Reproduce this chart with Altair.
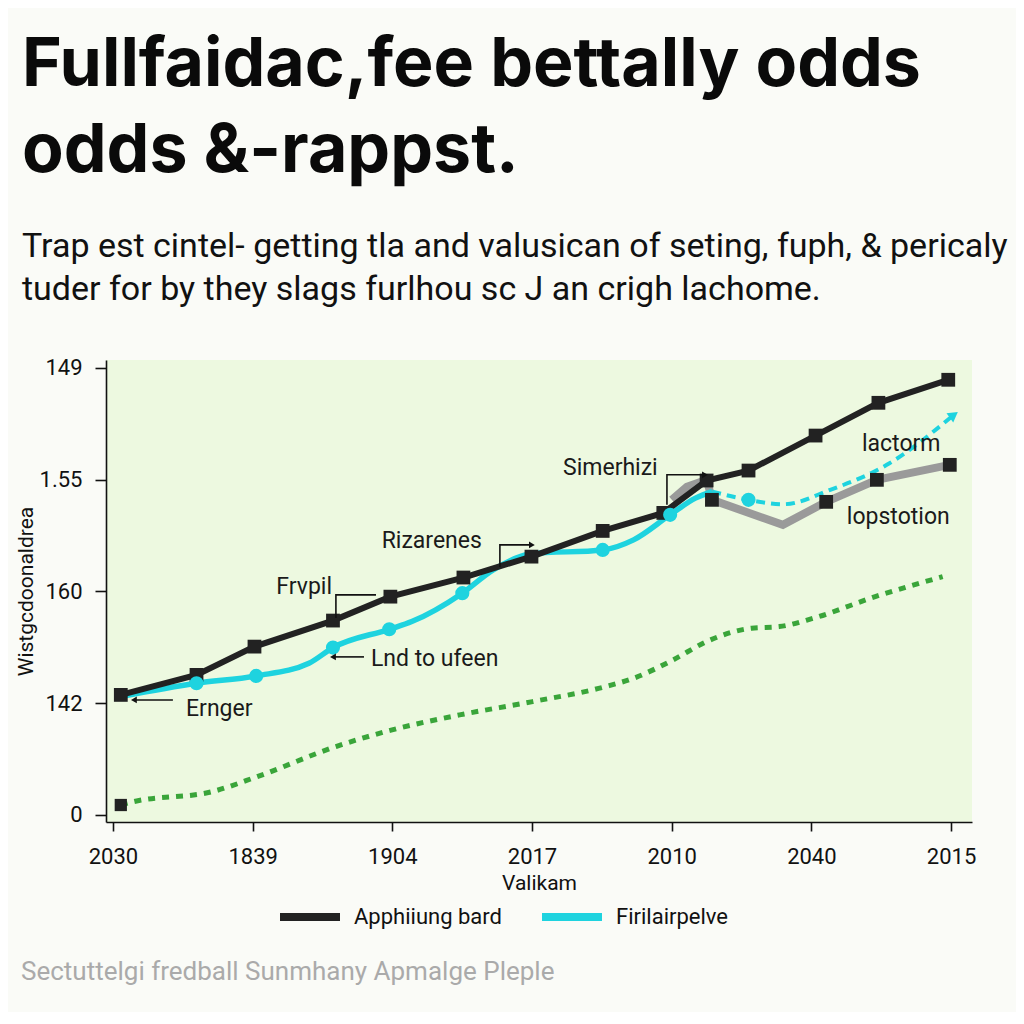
import altair as alt
import pandas as pd

# ---- data ----
x_tick_labels = ["2030", "1839", "1904", "2017", "2010", "2040", "2015"]
y_tick_labels = ["0", "142", "160", "1.55", "149"]

black_x = [0.056, 0.598, 1.013, 1.575, 1.986, 2.509, 2.996, 3.506, 3.94, 4.25, 4.55, 5.03, 5.48, 5.98]
black_y = [1.074, 1.253, 1.506, 1.739, 1.953, 2.124, 2.311, 2.541, 2.702, 2.992, 3.081, 3.394, 3.687, 3.893]

cyan_x = [0.056, 0.598, 1.025, 1.403, 1.575, 1.978, 2.139, 2.501, 2.722, 2.996, 3.506, 3.727, 3.989, 4.17, 4.29]
cyan_y = [1.059, 1.178, 1.244, 1.357, 1.497, 1.661, 1.730, 1.984, 2.192, 2.336, 2.371, 2.461, 2.685, 2.834, 2.893]
cyan_marker = [0, 1, 1, 0, 1, 1, 0, 1, 0, 0, 1, 0, 1, 0, 0]

cyan_dash_x = [4.29, 4.55, 4.80, 5.135, 5.54, 6.02]
cyan_dash_y = [2.893, 2.819, 2.780, 2.908, 3.132, 3.579]
cyan_dash_marker = [0, 1, 0, 0, 0, 0]

gray_x = [4.001, 4.109, 4.252, 4.288, 4.796, 5.106, 5.469, 5.991]
gray_y = [2.819, 2.935, 2.998, 2.819, 2.595, 2.801, 2.998, 3.132]
gray_marker = [0, 0, 0, 1, 0, 1, 1, 1]

green_x = [0.056, 0.148, 0.712, 1.033, 1.596, 1.998, 2.481, 3.004, 3.526, 3.727, 4.01, 4.25, 4.572, 4.77, 5.014, 5.457, 5.94]
green_y = [0.089, 0.119, 0.209, 0.343, 0.612, 0.761, 0.895, 1.014, 1.148, 1.223, 1.387, 1.551, 1.671, 1.685, 1.760, 1.953, 2.132]

series_names = ["Apphiiung bard", "Firilairpelve"]
series_colors = ["#222222", "#1ed3df"]

ann_text = ["Simerhizi", "Rizarenes", "Frvpil", "Lnd to ufeen", "Ernger", "lactorm", "lopstotion"]
ann_x = [3.90, 2.641, 1.568, 1.847, 0.523, 5.362, 5.254]
ann_y = [3.105, 2.452, 2.040, 1.396, 0.949, 3.320, 2.667]
ann_align = ["right", "right", "right", "left", "left", "left", "left"]

conn_id = [0, 0, 0, 1, 1, 1, 2, 2, 2, 3, 3, 4, 4]
conn_x = [3.966, 3.966, 4.238, 2.770, 2.770, 2.999, 1.596, 1.596, 1.883, 1.797, 1.575, 0.429, 0.150]
conn_y = [2.774, 3.043, 3.043, 2.219, 2.416, 2.416, 1.763, 1.969, 1.969, 1.414, 1.414, 1.029, 1.029]

head_x = [4.238, 2.999, 1.575, 0.150]
head_y = [3.043, 2.416, 1.414, 1.029]
head_shape = ["triangle-right", "triangle-right", "triangle-left", "triangle-left"]

title_lines = ["Fullfaidac,fee bettally odds", "odds &-rappst."]
subtitle_lines = ["Trap est cintel- getting tla and valusican of seting, fuph, & pericaly",
                  "tuder for by they slags furlhou sc J an crigh lachome."]
footer_text = "Sectuttelgi fredball Sunmhany Apmalge Pleple"

# ---- tables ----
black_df = pd.DataFrame({"x": black_x, "y": black_y, "series": series_names[0], "o": range(len(black_x))})
cyan_df = pd.DataFrame({"x": cyan_x, "y": cyan_y, "m": cyan_marker, "series": series_names[1], "o": range(len(cyan_x))})
cdash_df = pd.DataFrame({"x": cyan_dash_x, "y": cyan_dash_y, "m": cyan_dash_marker, "o": range(len(cyan_dash_x))})
gray_df = pd.DataFrame({"x": gray_x, "y": gray_y, "m": gray_marker, "o": range(len(gray_x))})
green_df = pd.DataFrame({"x": green_x, "y": green_y, "o": range(len(green_x))})
ann_df = pd.DataFrame({"x": ann_x, "y": ann_y, "t": ann_text, "a": ann_align})
conn_df = pd.DataFrame({"x": conn_x, "y": conn_y, "g": conn_id, "o": range(len(conn_x))})
head_df = pd.DataFrame({"x": head_x, "y": head_y, "s": head_shape})
arrow_df = pd.DataFrame({"x": [cyan_dash_x[-1]], "y": [cyan_dash_y[-1]]})

xs = alt.Scale(domain=[-0.05, 6.15], nice=False, zero=False)
ys = alt.Scale(domain=[-0.063, 4.07], nice=False, zero=False)

X = alt.X("x:Q", scale=xs, title="Valikam",
          axis=alt.Axis(values=list(range(7)),
                        labelExpr="['" + "','".join(x_tick_labels) + "'][datum.value]",
                        tickSize=9, labelPadding=15, titlePadding=5))
Y = alt.Y("y:Q", scale=ys, title="Wistgcdoonaldrea",
          axis=alt.Axis(values=list(range(5)),
                        labelExpr="['" + "','".join(y_tick_labels) + "'][datum.value]",
                        tickSize=11, labelPadding=13, titlePadding=3))
xq = alt.X("x:Q", scale=xs)
yq = alt.Y("y:Q", scale=ys)

color = alt.Color("series:N", scale=alt.Scale(domain=series_names, range=series_colors),
                  legend=alt.Legend(title=None, orient="none", direction="horizontal",
                                    legendX=170, legendY=523, symbolType="stroke",
                                    symbolStrokeWidth=8, symbolSize=3600,
                                    labelFontSize=22, labelFont="Roboto", labelColor="#111",
                                    columnPadding=24, labelOffset=10))

green = alt.Chart(green_df).mark_line(color="#3aa53a", strokeWidth=5, strokeDash=[7, 7],
                                      interpolate="monotone").encode(X, Y, order="o:Q")
green_pt = alt.Chart(green_df.head(1)).mark_square(color="#222", size=150, opacity=1).encode(xq, yq)

gray = alt.Chart(gray_df).mark_line(color="#9a9a9a", strokeWidth=8).encode(xq, yq, order="o:Q")
gray_pt = alt.Chart(gray_df).transform_filter("datum.m == 1").mark_square(
    color="#222", size=190, opacity=1).encode(xq, yq)

cyan = alt.Chart(cyan_df).mark_line(strokeWidth=5.5, interpolate="monotone").encode(
    xq, yq, color=color, order="o:Q")
cdash = alt.Chart(cdash_df).mark_line(color="#1ed3df", strokeWidth=4, strokeDash=[9, 6],
                                      interpolate="monotone").encode(xq, yq, order="o:Q")
arrow = alt.Chart(arrow_df).mark_point(shape="triangle-right", filled=True, color="#1ed3df",
                                       size=130, angle=324, opacity=1).encode(xq, yq)

black = alt.Chart(black_df).mark_line(strokeWidth=6).encode(xq, yq, color=color, order="o:Q")
black_pt = alt.Chart(black_df).mark_square(color="#222", size=190, opacity=1).encode(xq, yq)

cyan_pt = alt.Chart(cyan_df).transform_filter("datum.m == 1").mark_circle(
    color="#1ed3df", size=200, opacity=1).encode(xq, yq)
cdash_pt = alt.Chart(cdash_df).transform_filter("datum.m == 1").mark_circle(
    color="#1ed3df", size=200, opacity=1).encode(xq, yq)

conn = alt.Chart(conn_df).mark_line(color="#111", strokeWidth=1.6).encode(
    xq, yq, detail="g:N", order="o:Q")
heads = alt.Chart(head_df).mark_point(filled=True, color="#111", size=45, opacity=1).encode(
    xq, yq, shape=alt.Shape("s:N", scale=None))

ann_l = alt.Chart(ann_df).transform_filter("datum.a == 'left'").mark_text(
    align="left", baseline="middle", font="Roboto", fontSize=23, color="#1a1a1a").encode(xq, yq, text="t:N")
ann_r = alt.Chart(ann_df).transform_filter("datum.a == 'right'").mark_text(
    align="right", baseline="middle", font="Roboto", fontSize=23, color="#1a1a1a").encode(xq, yq, text="t:N")

footer = alt.Chart(pd.DataFrame({"t": [footer_text]})).mark_text(
    align="left", baseline="middle", font="Roboto", fontSize=26, color="#aaaaaa").encode(
    x=alt.value(-85), y=alt.value(612), text="t:N")

chart = alt.layer(
    green, green_pt, gray, cdash, cyan, black, gray_pt, black_pt, cyan_pt, cdash_pt, arrow,
    conn, heads, ann_l, ann_r, footer
).properties(
    width=866, height=462,
    autosize=alt.AutoSizeParams(type="none"),
    padding={"left": 98, "top": 352, "right": 44, "bottom": 190},
    background="#fafbf7",
    title=alt.TitleParams(
        text=title_lines, subtitle=subtitle_lines, anchor="start", frame="group", dx=-84,
        font="Inter", fontSize=68, fontWeight=700, lineHeight=86, color="#0a0a0a",
        subtitleFont="Roboto", subtitleFontSize=34, subtitleLineHeight=43,
        subtitleColor="#111111", subtitlePadding=44, offset=50),
).configure_view(
    fill="#edf9e0", strokeWidth=0
).configure_axis(
    domainColor="#111", domainWidth=1.6, tickColor="#111", tickWidth=1.6,
    labelFont="Roboto", labelFontSize=22, labelColor="#111",
    titleFont="Roboto", titleFontSize=21, titleColor="#111", titleFontWeight="normal",
    grid=False
)

chart.save("out.html", embed_options={"renderer": "svg", "actions": False})
